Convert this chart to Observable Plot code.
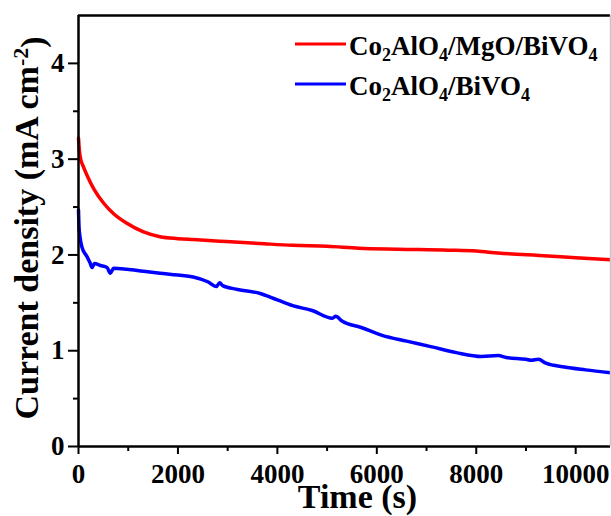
<!DOCTYPE html>
<html>
<head>
<meta charset="utf-8">
<script src="https://cdn.jsdelivr.net/npm/d3@7"></script>
<script src="https://cdn.jsdelivr.net/npm/@observablehq/plot@0.6"></script>
<style>
  html, body { margin: 0; padding: 0; background: #fff; }
</style>
</head>
<body>
<div id="chart"></div>
<script>
// ---- data ----
const seriesNames = ["Co2AlO4/MgO/BiVO4", "Co2AlO4/BiVO4"];
const seriesColors = ["#ff0000", "#0000ff"];

const timeRed = [0, 20, 40, 100, 173, 307, 507, 707, 973, 1307, 1640, 2000, 2307, 2973, 3640, 4307, 5000, 5640, 6440, 7440, 8000, 8440, 9440, 10000, 10700];
const currentRed = [3.22, 3.08, 3.01, 2.92, 2.83, 2.69, 2.54, 2.43, 2.33, 2.24, 2.19, 2.17, 2.16, 2.14, 2.12, 2.10, 2.09, 2.07, 2.06, 2.05, 2.04, 2.02, 1.99, 1.97, 1.95];

const timeBlue = [0, 10, 30, 70, 173, 230, 273, 320, 440, 573, 640, 707, 973, 1300, 1640, 2000, 2307, 2600, 2773, 2840, 2900, 3200, 3640, 4000, 4307, 4700, 5107, 5173, 5300, 5700, 6107, 6600, 7107, 7600, 8107, 8440, 8600, 9000, 9107, 9250, 9400, 9773, 10200, 10700];
const currentBlue = [2.47, 2.30, 2.19, 2.08, 1.98, 1.92, 1.87, 1.91, 1.89, 1.87, 1.81, 1.86, 1.85, 1.83, 1.81, 1.79, 1.77, 1.72, 1.67, 1.71, 1.68, 1.64, 1.60, 1.53, 1.47, 1.42, 1.34, 1.36, 1.31, 1.24, 1.16, 1.10, 1.04, 0.98, 0.94, 0.95, 0.93, 0.91, 0.90, 0.91, 0.87, 0.83, 0.80, 0.77];

const xTicks = [0, 2000, 4000, 6000, 8000, 10000];
const xMinorTicks = [1000, 3000, 5000, 7000, 9000];
const yTicks = [0, 1, 2, 3, 4];
const yMinorTicks = [0.5, 1.5, 2.5, 3.5];
const xLabel = "Time (s)";
const yLabel = "Current density (mA cm-2)";

const red = timeRed.map((t, i) => ({t, v: currentRed[i]}));
const blue = timeBlue.map((t, i) => ({t, v: currentBlue[i]}));

const xMax = 10700, yMax = 4.5;

const chart = Plot.plot({
  width: 611,
  height: 516,
  marginLeft: 78,
  marginTop: 15,
  marginBottom: 70,
  marginRight: 1,
  x: {domain: [0, xMax]},
  y: {domain: [0, yMax]},
  style: {fontFamily: "'Liberation Serif', 'Times New Roman', serif", fontWeight: "bold", color: "#000", background: "#fff"},
  marks: [
    Plot.axisX({ticks: xMinorTicks, tickSize: 5, text: null, strokeWidth: 2, label: null}),
    Plot.axisX({ticks: xTicks, tickSize: 8, tickPadding: 9, fontSize: 27, strokeWidth: 2, label: null, tickFormat: d => String(d)}),
    Plot.axisY({ticks: yMinorTicks, tickSize: 5, text: null, strokeWidth: 2, label: null}),
    Plot.axisY({ticks: yTicks, tickSize: 10, tickPadding: 4, fontSize: 27, strokeWidth: 2, label: null, tickFormat: d => String(d)}),
    Plot.line(red, {x: "t", y: "v", stroke: seriesColors[0], strokeWidth: 3.5, curve: "monotone-x"}),
    Plot.line(blue, {x: "t", y: "v", stroke: seriesColors[1], strokeWidth: 3.5, curve: "monotone-x"}),
    Plot.ruleX([0], {stroke: "#000", strokeWidth: 2.5}),
    Plot.ruleY([0], {stroke: "#000", strokeWidth: 2.5}),
    Plot.ruleY([yMax], {stroke: "#000", strokeWidth: 2.5}),
    Plot.ruleX([xMax], {stroke: "#c8c8c8", strokeWidth: 1.5}),
    Plot.text([xLabel], {text: d => d, frameAnchor: "bottom", textAnchor: "middle", lineAnchor: "top", dx: 13, dy: 37, fontSize: 34}),
    Plot.text([yLabel], {text: d => d, frameAnchor: "left", textAnchor: "middle", rotate: -90, dx: -51, dy: -3, fontSize: 34})
  ]
});

const svg = d3.select(chart);

// superscript in y label
svg.selectAll("text").filter(function() { return this.textContent === yLabel; }).each(function() {
  const t = d3.select(this);
  t.text(null);
  t.append("tspan").text("Current density (mA cm");
  t.append("tspan").attr("dy", "-0.45em").attr("font-size", "22").text("-2");
  t.append("tspan").attr("dy", "0.45em").text(")");
});

// legend
function addFormula(g, name, x, y) {
  const txt = g.append("text").attr("x", x).attr("y", y).attr("font-size", 27).attr("text-anchor", "start");
  const parts = name.split(/(\d)/).filter(p => p !== "");
  let lowered = false;
  parts.forEach(p => {
    if (/^\d$/.test(p)) {
      txt.append("tspan").attr("dy", 6).attr("font-size", 18).text(p);
      lowered = true;
    } else {
      const ts = txt.append("tspan").text(p);
      if (lowered) { ts.attr("dy", -6); lowered = false; }
    }
  });
}
const lg = svg.append("g").attr("fill", "#000").attr("text-anchor", "start");
const legendY = [44, 84];
seriesNames.forEach((name, i) => {
  lg.append("line").attr("x1", 295).attr("x2", 346).attr("y1", legendY[i]).attr("y2", legendY[i])
    .attr("stroke", seriesColors[i]).attr("stroke-width", 3);
  addFormula(lg, name, 349, legendY[i] + 11);
});

document.getElementById("chart").appendChild(chart);
</script>
</body>
</html>
